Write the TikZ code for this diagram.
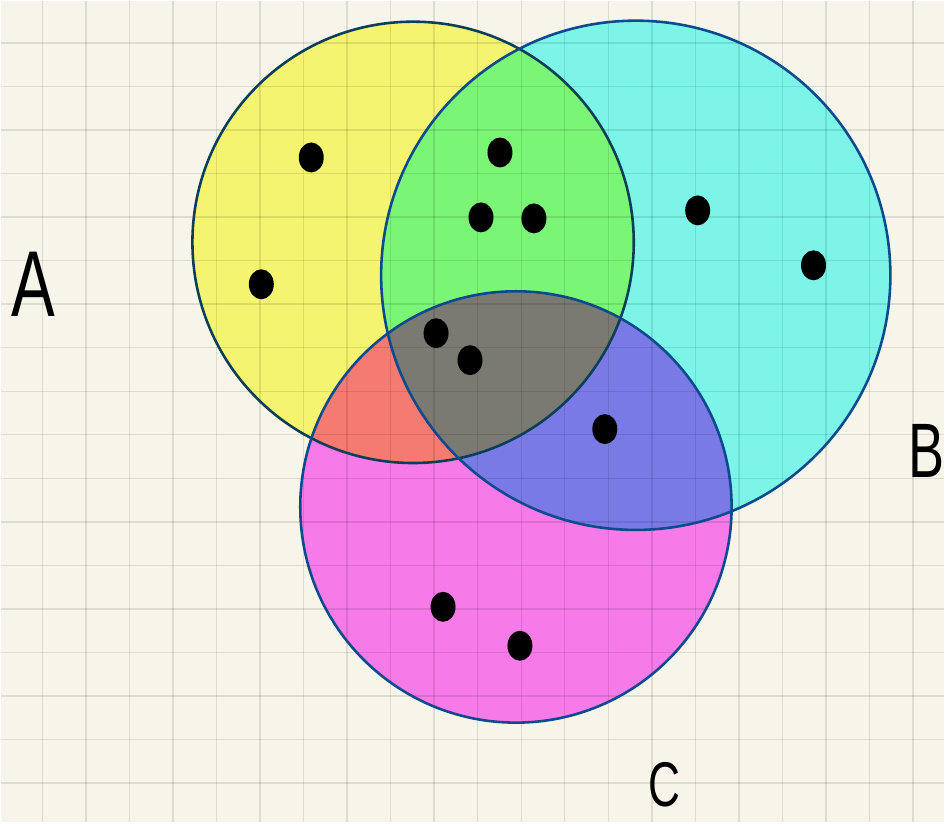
\documentclass[tikz,border=0pt]{standalone}
\usepackage{fontspec}
\setsansfont{Liberation Sans}
\definecolor{Paper}{HTML}{F7F5EA}
\definecolor{SetA}{HTML}{F5F470}
\definecolor{SetB}{HTML}{7CF5E8}
\definecolor{SetC}{HTML}{F67AE8}
\definecolor{SetAB}{HTML}{7AF575}
\definecolor{SetAC}{HTML}{F47A72}
\definecolor{SetBC}{HTML}{7A7AE6}
\definecolor{SetABC}{HTML}{7A7A72}
\definecolor{RimA}{HTML}{0B3F57}
\definecolor{RimB}{HTML}{0B4A8C}
\begin{document}
\begin{tikzpicture}[x=.03cm,y=-.03cm,rim/.style={line width=2.2pt},dot/.style={fill=black},rule/.style={black,opacity=.1,line width=1.2pt},tag/.style={font=\sffamily,inner sep=0pt,xscale=.7}]
\fill[Paper] (0,0) rectangle (945,823);
\coordinate (A) at (413,242); \coordinate (B) at (636,275); \coordinate (C) at (516,507);
% painted regions
\fill[SetA] (A) circle[radius=221]; \fill[SetB] (B) circle[radius=255]; \fill[SetC] (C) circle[radius=216];
\begin{scope} \clip (A) circle[radius=221]; \fill[SetAB] (B) circle[radius=255]; \fill[SetAC] (C) circle[radius=216]; \end{scope}
\begin{scope} \clip (B) circle[radius=255]; \fill[SetBC] (C) circle[radius=216]; \clip (A) circle[radius=221]; \fill[SetABC] (C) circle[radius=216]; \end{scope}
% grid paper
\foreach \g in {0,...,20} \draw[rule] ({41.7+43.6*\g},0) -- ++(0,823);
\foreach \g in {0,...,17} \draw[rule] (0,{42.3+43.6*\g}) -- ++(945,0);
% outlines
\draw[rim,RimA] (A) circle[radius=221]; \draw[rim,RimB] (B) circle[radius=255]; \draw[rim,RimB] (C) circle[radius=216];
% elements
\foreach \p/\q in {311/157,261/284,500/152,481/217,534/218,436/333,470/360,698/210,814/265,605/429,443/607,520/646} \fill[dot] (\p,\q) ellipse[x radius=12.5,y radius=15];
\node[tag,font=\sffamily\fontsize{80}{80}\selectfont] (labA) at (33,284) {A};
\node[tag,font=\sffamily\fontsize{66}{66}\selectfont] (labB) at (927,451) {B};
\node[tag,font=\sffamily\fontsize{54}{54}\selectfont] (labC) at (665,785) {C};
\end{tikzpicture}
\end{document}
